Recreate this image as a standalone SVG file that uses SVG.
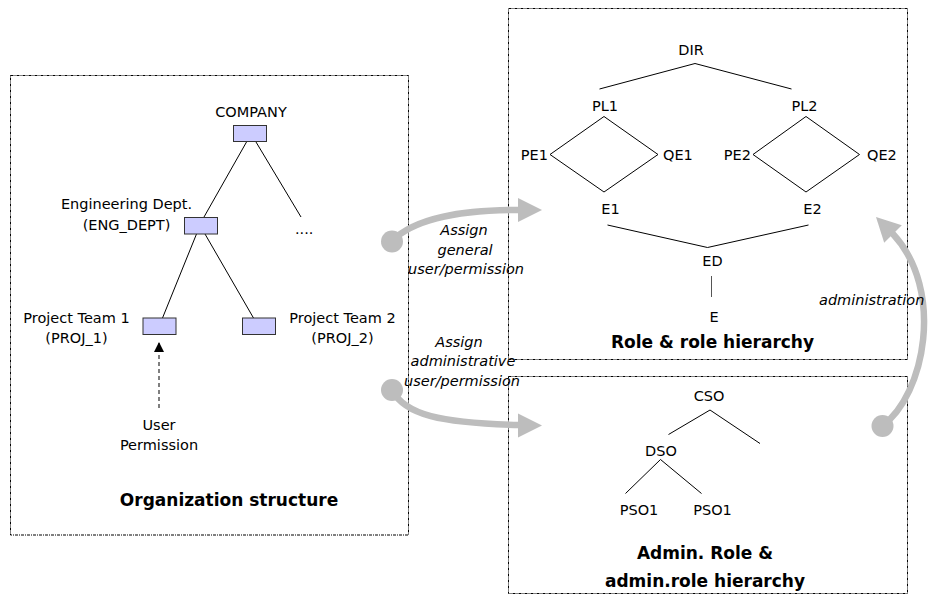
<svg xmlns="http://www.w3.org/2000/svg" width="929" height="595" viewBox="0 0 929 595">
  <defs>
    <style>
      .t { font-family: "DejaVu Sans", Verdana, sans-serif; font-size: 14.5px; fill: #000; }
      .c { text-anchor: middle; }
      .e { text-anchor: end; }
      .i { font-style: italic; }
      .b { font-weight: bold; font-size: 17px; }
      .frame { fill: none; stroke: #000; stroke-width: 1; stroke-dasharray: 3 1 1 1; }
      .unit { fill: #ccccff; stroke: #333; stroke-width: 1; }
      .edge { fill: none; stroke: #000; stroke-width: 1; }
      .flow { fill: none; stroke: #bdbdbd; stroke-width: 6.5; stroke-linecap: round; }
      .flowend { fill: #bdbdbd; }
    </style>
    <marker id="tip" viewBox="0 0 10 10" refX="9" refY="5" markerWidth="10" markerHeight="10" markerUnits="userSpaceOnUse" orient="auto">
      <path d="M0,0 L10,5 L0,10 Z" fill="#000"/>
    </marker>
  </defs>

  <rect width="929" height="595" fill="#fff"/>

  <!-- panels -->
  <g id="panels">
    <rect class="frame" x="10.5" y="75.5" width="398" height="459.5"/>
    <rect class="frame" x="508.5" y="8.5" width="399" height="351"/>
    <rect class="frame" x="508.5" y="376.5" width="399" height="217"/>
  </g>

  <!-- connectors -->
  <g id="connectors">
    <!-- organization tree -->
    <line class="edge" x1="246.5" y1="142" x2="204" y2="217"/>
    <line class="edge" x1="256" y1="142" x2="301" y2="217"/>
    <line class="edge" x1="196.5" y1="234" x2="162.5" y2="318"/>
    <line class="edge" x1="205" y1="234" x2="253.5" y2="318"/>
    <line x1="159" y1="408" x2="159" y2="343" stroke="#555" stroke-width="1.5" stroke-dasharray="4 3" marker-end="url(#tip)"/>

    <!-- role hierarchy -->
    <polyline class="edge" points="599.5,89 695,63.5 791.5,89"/>
    <polygon class="edge" points="604,116.5 550,154.5 604,192 658,154.5"/>
    <polygon class="edge" points="806,116.5 753,154.5 806,192 859.5,154.5"/>
    <polyline class="edge" points="607.5,225 707.5,247.5 808.5,225"/>
    <line x1="711.5" y1="276" x2="711.5" y2="297" stroke="#555" stroke-width="1"/>

    <!-- administrative role hierarchy -->
    <polyline class="edge" points="668.5,434.5 710,410 760,443.5"/>
    <polyline class="edge" points="625.5,493.5 660.5,459.5 701.5,493.5"/>

    <!-- assignment flows -->
    <path class="flow" d="M392,241 C415,218 460,210 520,210"/>
    <circle class="flowend" cx="392" cy="241.5" r="11"/>
    <polygon class="flowend" points="518,198 542,210 518,222"/>

    <path class="flow" d="M392,390 C405,415 440,423 520,425"/>
    <circle class="flowend" cx="392" cy="390" r="11"/>
    <polygon class="flowend" points="518,413.5 542,425.5 518,437.5"/>

    <path class="flow" d="M882,426 C925,395 945,290 893,234"/>
    <circle class="flowend" cx="882.5" cy="426" r="11"/>
    <polygon class="flowend" points="876,217 901.8,225.2 884.2,242.8"/>
  </g>

  <!-- organization structure -->
  <g id="company">
    <text class="t c" x="251" y="117">COMPANY</text>
    <rect class="unit" x="233.5" y="125.5" width="33" height="16"/>
  </g>
  <g id="eng-dept">
    <text class="t c" x="126.5" y="209">Engineering Dept.</text>
    <text class="t c" x="126.5" y="230">(ENG_DEPT)</text>
    <rect class="unit" x="184.5" y="217.5" width="33" height="16.5"/>
  </g>
  <g id="other-units">
    <text class="t" x="295" y="234">....</text>
  </g>
  <g id="proj-1">
    <text class="t c" x="76.5" y="323">Project Team 1</text>
    <text class="t c" x="76.5" y="343">(PROJ_1)</text>
    <rect class="unit" x="143" y="318" width="33" height="16.5"/>
  </g>
  <g id="proj-2">
    <text class="t c" x="342.5" y="323">Project Team 2</text>
    <text class="t c" x="342.5" y="343">(PROJ_2)</text>
    <rect class="unit" x="242.5" y="318" width="33" height="16.5"/>
  </g>
  <g id="user-permission">
    <text class="t c" x="159" y="430">User</text>
    <text class="t c" x="159" y="450">Permission</text>
  </g>
  <g id="org-title">
    <text class="t b c" x="229" y="506">Organization structure</text>
  </g>

  <!-- role hierarchy -->
  <g id="role-dir"><text class="t c" x="691" y="55">DIR</text></g>
  <g id="role-pl1"><text class="t c" x="605" y="111">PL1</text></g>
  <g id="role-pl2"><text class="t c" x="804.5" y="111">PL2</text></g>
  <g id="role-pe1"><text class="t e" x="548" y="159.5">PE1</text></g>
  <g id="role-qe1"><text class="t" x="663" y="159.5">QE1</text></g>
  <g id="role-pe2"><text class="t e" x="751" y="159.5">PE2</text></g>
  <g id="role-qe2"><text class="t" x="867" y="159.5">QE2</text></g>
  <g id="role-e1"><text class="t c" x="610.5" y="213.5">E1</text></g>
  <g id="role-e2"><text class="t c" x="812.5" y="213.5">E2</text></g>
  <g id="role-ed"><text class="t c" x="712.5" y="266">ED</text></g>
  <g id="role-e"><text class="t c" x="714" y="321.5">E</text></g>
  <g id="role-title"><text class="t b c" x="712.5" y="348">Role &amp; role hierarchy</text></g>

  <!-- administrative role hierarchy -->
  <g id="admin-cso"><text class="t c" x="709" y="401">CSO</text></g>
  <g id="admin-dso"><text class="t c" x="661" y="456">DSO</text></g>
  <g id="admin-pso-a"><text class="t c" x="639" y="515">PSO1</text></g>
  <g id="admin-pso-b"><text class="t c" x="712.5" y="515">PSO1</text></g>
  <g id="admin-title">
    <text class="t b c" x="705" y="559">Admin. Role &amp;</text>
    <text class="t b c" x="705" y="586.5">admin.role hierarchy</text>
  </g>

  <!-- flow labels -->
  <g id="label-general">
    <text class="t i c" x="464" y="235">Assign</text>
    <text class="t i c" x="465" y="254.5">general</text>
    <text class="t i c" x="466" y="274">user/permission</text>
  </g>
  <g id="label-admin">
    <text class="t i c" x="459" y="346.5">Assign</text>
    <text class="t i c" x="463" y="366">administrative</text>
    <text class="t i c" x="462" y="385.5">user/permission</text>
  </g>
  <g id="label-administration">
    <text class="t i" x="819" y="304.5">administration</text>
  </g>
</svg>
